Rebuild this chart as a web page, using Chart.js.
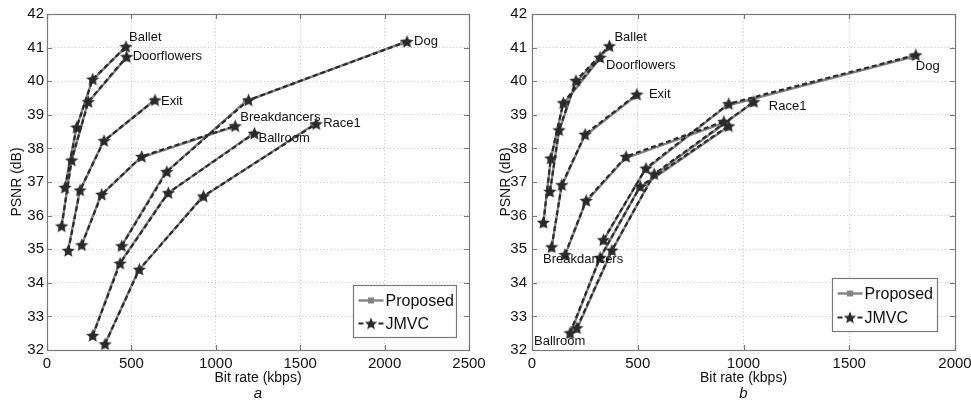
<!DOCTYPE html>
<html><head><meta charset="utf-8">
<script src="https://cdn.jsdelivr.net/npm/chart.js@4.4.1/dist/chart.umd.min.js"></script>
<style>
html,body{margin:0;padding:0;background:#fff;overflow:hidden;}
#wrap{position:relative;width:971px;height:408px;background:#fff;}
#c1{position:absolute;left:0;top:0;}
#c2{position:absolute;left:490px;top:0;}
</style></head><body>
<div id="wrap"><canvas id="c1" width="490" height="408"></canvas><canvas id="c2" width="481" height="408"></canvas></div>
<script>
// ---------- data ----------
const sequences = ['Ballet','Doorflowers','Exit','Breakdancers','Ballroom','Race1','Dog'];
const methods = ['Proposed','JMVC'];
const xTicksA = [0,500,1000,1500,2000,2500];
const xTicksB = [0,500,1000,1500,2000];
const yTicks = [32,33,34,35,36,37,38,39,40,41,42];
const xTitle = 'Bit rate (kbps)';
const yTitle = 'PSNR (dB)';

// (a) JMVC  [bit rate, PSNR]
const a_Ballet_JMVC       = [[107,36.84],[176,38.63],[271,40.06],[468,41.03]];
const a_Doorflowers_JMVC  = [[87,35.69],[146,37.65],[245,39.39],[472,40.73]];
const a_Exit_JMVC         = [[126,34.96],[196,36.76],[338,38.23],[640,39.44]];
const a_Breakdancers_JMVC = [[206,35.13],[324,36.63],[561,37.76],[1115,38.67]];
const a_Ballroom_JMVC     = [[271,32.43],[433,34.58],[719,36.68],[1229,38.45]];
const a_Race1_JMVC        = [[344,32.18],[547,34.40],[927,36.58],[1595,38.73]];
const a_Dog_JMVC          = [[443,35.10],[710,37.31],[1194,39.44],[2133,41.18]];
// (a) Proposed
const a_Ballet_Proposed       = [[105,36.80],[173,38.60],[267,40.02],[462,41.00]];
const a_Doorflowers_Proposed  = [[86,35.66],[144,37.61],[241,39.35],[465,40.67]];
const a_Exit_Proposed         = [[124,34.93],[193,36.72],[333,38.20],[630,39.41]];
const a_Breakdancers_Proposed = [[203,35.10],[319,36.60],[553,37.72],[1100,38.63]];
const a_Ballroom_Proposed     = [[268,32.40],[427,34.55],[710,36.64],[1212,38.41]];
const a_Race1_Proposed        = [[340,32.14],[540,34.35],[915,36.53],[1575,38.69]];
const a_Dog_Proposed          = [[437,35.06],[700,37.27],[1178,39.40],[2110,41.15]];

// (b) JMVC
const b_Ballet_JMVC       = [[85,36.72],[128,38.55],[208,40.02],[366,41.05]];
const b_Doorflowers_JMVC  = [[54,35.80],[89,37.71],[148,39.36],[322,40.71]];
const b_Exit_JMVC         = [[93,35.07],[141,36.92],[251,38.42],[496,39.61]];
const b_Breakdancers_JMVC = [[156,34.84],[256,36.45],[445,37.76],[907,38.80]];
const b_Ballroom_JMVC     = [[180,32.51],[322,34.75],[512,36.87],[930,38.67]];
const b_Race1_JMVC        = [[212,32.66],[378,34.97],[578,37.24],[1049,39.39]];
const b_Dog_JMVC          = [[338,35.28],[539,37.41],[930,39.33],[1815,40.78]];
// (b) Proposed
const b_Ballet_Proposed       = [[84,36.66],[127,38.49],[206,39.96],[362,41.00]];
const b_Doorflowers_Proposed  = [[53,35.73],[88,37.64],[146,39.30],[318,40.65]];
const b_Exit_Proposed         = [[92,35.01],[139,36.86],[248,38.36],[490,39.56]];
const b_Breakdancers_Proposed = [[154,34.78],[253,36.39],[440,37.70],[897,38.74]];
const b_Ballroom_Proposed     = [[178,32.44],[318,34.69],[506,36.81],[920,38.61]];
const b_Race1_Proposed        = [[210,32.59],[374,34.91],[572,37.18],[1038,39.33]];
const b_Dog_Proposed          = [[334,35.22],[533,37.35],[920,39.27],[1795,40.72]];

const setA = {
  JMVC: [a_Ballet_JMVC,a_Doorflowers_JMVC,a_Exit_JMVC,a_Breakdancers_JMVC,a_Ballroom_JMVC,a_Race1_JMVC,a_Dog_JMVC],
  Proposed: [a_Ballet_Proposed,a_Doorflowers_Proposed,a_Exit_Proposed,a_Breakdancers_Proposed,a_Ballroom_Proposed,a_Race1_Proposed,a_Dog_Proposed]
};
const setB = {
  JMVC: [b_Ballet_JMVC,b_Doorflowers_JMVC,b_Exit_JMVC,b_Breakdancers_JMVC,b_Ballroom_JMVC,b_Race1_JMVC,b_Dog_JMVC],
  Proposed: [b_Ballet_Proposed,b_Doorflowers_Proposed,b_Exit_Proposed,b_Breakdancers_Proposed,b_Ballroom_Proposed,b_Race1_Proposed,b_Dog_Proposed]
};

// ---------- styles ----------
const FONT = "'Liberation Sans', Arial, Helvetica, sans-serif";
Chart.defaults.font.family = FONT;
Chart.defaults.color = '#111';
const PROP_COLOR = '#838383';
const JMVC_COLOR = '#2a2a2a';
const FRAME_COLOR = '#7a7a7a';

function makeStar(r, color){
  const s = Math.ceil(r*2)+1;
  const c = document.createElement('canvas');
  c.width = s; c.height = s;
  const g = c.getContext('2d');
  g.fillStyle = color;
  g.beginPath();
  for (let i=0;i<10;i++){
    const rr = (i%2) ? r*0.45 : r;
    const a = -Math.PI/2 + i*Math.PI/5;
    g.lineTo(s/2 + rr*Math.cos(a), s/2 + 0.6 + rr*Math.sin(a));
  }
  g.closePath(); g.fill();
  return c;
}
const STAR = makeStar(7, JMVC_COLOR);
const STAR_SMALL = makeStar(6.5, JMVC_COLOR);

function toPts(arr){ return arr.map(p => ({x:p[0], y:p[1]})); }

function buildDatasets(set){
  const ds = [];
  sequences.forEach((name,i) => {
    ds.push({
      label: name + ' ' + methods[0], data: toPts(set.Proposed[i]), order: 1,
      showLine: true, borderColor: PROP_COLOR, borderWidth: 2.4,
      pointStyle: 'rect', pointRadius: 4, pointBackgroundColor: PROP_COLOR,
      pointBorderColor: PROP_COLOR, pointBorderWidth: 0
    });
    ds.push({
      label: name + ' ' + methods[1], data: toPts(set.JMVC[i]), order: 0,
      showLine: true, borderColor: JMVC_COLOR, borderWidth: 2.2, borderDash: [5,3],
      pointStyle: STAR, pointRadius: 6, pointBackgroundColor: JMVC_COLOR, pointBorderWidth: 0
    });
  });
  return ds;
}

function framePlugin(xTicks){
  return {
    id: 'frame',
    afterDatasetsDraw(chart){
      const {ctx, chartArea: a, scales} = chart;
      ctx.save();
      ctx.strokeStyle = FRAME_COLOR; ctx.lineWidth = 1.2; ctx.setLineDash([]);
      ctx.strokeRect(Math.round(a.left)+0.5, Math.round(a.top)+0.5, Math.round(a.right-a.left), Math.round(a.bottom-a.top));
      const L = 5;
      ctx.beginPath();
      xTicks.forEach(v => {
        const x = Math.round(scales.x.getPixelForValue(v)) + 0.5;
        ctx.moveTo(x, a.bottom); ctx.lineTo(x, a.bottom - L);
        ctx.moveTo(x, a.top); ctx.lineTo(x, a.top + L);
      });
      yTicks.forEach(v => {
        const y = Math.round(scales.y.getPixelForValue(v)) + 0.5;
        ctx.moveTo(a.left, y); ctx.lineTo(a.left + L, y);
        ctx.moveTo(a.right, y); ctx.lineTo(a.right - L, y);
      });
      ctx.stroke();
      ctx.restore();
    }
  };
}

function labelPlugin(set, items, letter){
  return {
    id: 'seqLabels',
    afterDraw(chart){
      const {ctx, scales, chartArea: a} = chart;
      ctx.save();
      ctx.font = '13px ' + FONT;
      ctx.fillStyle = '#111';
      ctx.textBaseline = 'middle'; ctx.textAlign = 'left';
      items.forEach(it => {
        const p = set.JMVC[sequences.indexOf(it.seq)][it.idx];
        const x = scales.x.getPixelForValue(p[0]) + it.dx;
        const y = scales.y.getPixelForValue(p[1]) + it.dy;
        ctx.fillText(it.seq, x, y);
      });
      ctx.font = 'italic 15px ' + FONT;
      ctx.textAlign = 'center';
      ctx.fillText(letter, (a.left + a.right)/2, 394);
      ctx.restore();
    }
  };
}

function legendPlugin(gapR, gapB, w, h, row1, row2){
  return {
    id: 'boxLegend',
    afterDraw(chart){
      const {ctx, chartArea: a} = chart;
      const x0 = Math.round(a.right - gapR - w) + 0.5, y0 = Math.round(a.bottom - gapB - h) + 0.5;
      ctx.save();
      ctx.fillStyle = '#fff'; ctx.fillRect(x0, y0, w, h);
      ctx.strokeStyle = FRAME_COLOR; ctx.lineWidth = 1.2; ctx.strokeRect(x0, y0, w, h);
      const lx1 = x0 + 5, lx2 = x0 + 30, mx = (lx1 + lx2)/2;
      let y = y0 + row1;
      ctx.strokeStyle = PROP_COLOR; ctx.lineWidth = 2.4;
      ctx.beginPath(); ctx.moveTo(lx1, y); ctx.lineTo(lx2, y); ctx.stroke();
      ctx.fillStyle = PROP_COLOR; ctx.fillRect(mx - 3, y - 3, 6, 6);
      y = y0 + row2;
      ctx.strokeStyle = JMVC_COLOR; ctx.lineWidth = 2.2;
      ctx.beginPath(); ctx.moveTo(lx1, y); ctx.lineTo(lx1 + 5, y); ctx.moveTo(lx2 - 5, y); ctx.lineTo(lx2, y); ctx.stroke();
      ctx.drawImage(STAR_SMALL, mx - STAR_SMALL.width/2, y - STAR_SMALL.height/2);
      ctx.fillStyle = '#111';
      ctx.font = '16px ' + FONT;
      ctx.textBaseline = 'middle'; ctx.textAlign = 'left';
      ctx.fillText(methods[0], x0 + 32, y0 + row1 + 1);
      ctx.fillText(methods[1], x0 + 32, y0 + row2 + 1);
      ctx.restore();
    }
  };
}

function makeChart(id, set, xTicks, yAxisW, padRight, yTitlePad, yTickPad, labels, letter, leg){
  return new Chart(document.getElementById(id), {
    type: 'scatter',
    data: { datasets: buildDatasets(set) },
    options: {
      responsive: false, animation: false, devicePixelRatio: 1,
      layout: { padding: { left: 0, top: 14, right: padRight, bottom: 0 } },
      plugins: { legend: { display: false }, tooltip: { enabled: false } },
      elements: { line: { tension: 0 } },
      scales: {
        x: {
          type: 'linear', min: xTicks[0], max: xTicks[xTicks.length-1],
          afterBuildTicks(s){ s.ticks = xTicks.map(v => ({value: v})); },
          afterFit(s){ s.height = 58; s.paddingLeft = 0; s.paddingRight = 0; },
          grid: { color: '#c4c4c4', lineWidth: 1, drawTicks: false },
          border: { display: false, dash: [1,2.5] },
          ticks: { padding: 5, font: { size: 15 }, color: '#111', maxRotation: 0, autoSkip: false,
                   callback: v => String(v) },
          title: { display: true, text: xTitle, font: { size: 14 }, color: '#111', padding: { top: 0, bottom: 21.5 } }
        },
        y: {
          type: 'linear', min: yTicks[0], max: yTicks[yTicks.length-1],
          afterBuildTicks(s){ s.ticks = yTicks.map(v => ({value: v})); },
          afterFit(s){ s.width = yAxisW; s.paddingTop = 0; s.paddingBottom = 0; },
          grid: { color: '#c4c4c4', lineWidth: 1, drawTicks: false },
          border: { display: false, dash: [1,2.5] },
          ticks: { padding: yTickPad, font: { size: 15 }, color: '#111', autoSkip: false,
                   callback: v => String(v) },
          title: { display: true, text: yTitle, font: { size: 14 }, color: '#111', padding: { top: yTitlePad, bottom: 0 } }
        }
      }
    },
    plugins: [framePlugin(xTicks), labelPlugin(set, labels, letter), legendPlugin(...leg)]
  });
}

const labelsA = [
  {seq:'Ballet', idx:3, dx:3, dy:-9},
  {seq:'Doorflowers', idx:3, dx:6, dy:0},
  {seq:'Exit', idx:3, dx:6, dy:1},
  {seq:'Breakdancers', idx:3, dx:5, dy:-8},
  {seq:'Ballroom', idx:3, dx:4, dy:5},
  {seq:'Race1', idx:3, dx:7, dy:0},
  {seq:'Dog', idx:3, dx:7, dy:0}
];
const labelsB = [
  {seq:'Ballet', idx:3, dx:5, dy:-8},
  {seq:'Doorflowers', idx:3, dx:6, dy:8},
  {seq:'Exit', idx:3, dx:12, dy:0},
  {seq:'Breakdancers', idx:0, dx:-22, dy:5},
  {seq:'Ballroom', idx:0, dx:-36, dy:9},
  {seq:'Race1', idx:3, dx:15, dy:5},
  {seq:'Dog', idx:3, dx:0, dy:11}
];

makeChart('c1', setA, xTicksA, 47, 21, 8.6, 3, labelsA, 'a', [13, 13, 103, 52, 15, 38]);
makeChart('c2', setB, xTicksB, 42, 16, 7.6, 5, labelsB, 'b', [18, 19, 105, 53, 15, 39]);
</script>
</body></html>
